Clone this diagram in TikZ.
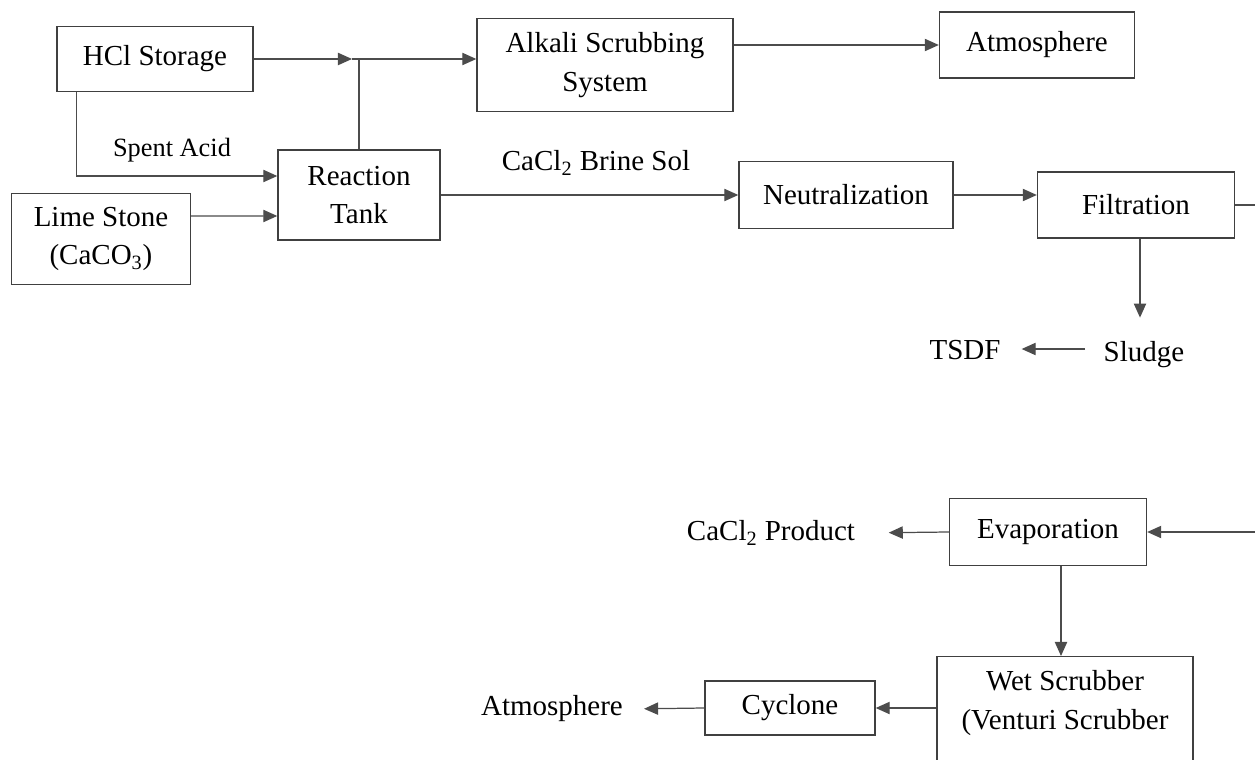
\documentclass[tikz,border=0pt]{standalone}
\usepackage{fontspec}
\setmainfont{Liberation Serif}
\usetikzlibrary{arrows.meta}

\tikzset{
  box/.style={draw=black!75,line width=0.8pt,align=center,font=\fontsize{16.5}{22}\selectfont},
  lbl/.style={font=\fontsize{16.5}{22}\selectfont},
  flow/.style={draw=black!70,line width=0.7pt,-{Triangle[length=8pt,width=7pt]}}
}

\begin{document}
\begin{tikzpicture}[x=0.02cm,y=-0.02cm]
		\useasboundingbox (0,0) rectangle (1255,760);
		
		% TOP: acid side
		\node[box,minimum width=3.92cm,minimum height=1.30cm] (hcl) at (155,59) {HCl Storage};
		\node[box,minimum width=3.24cm,minimum height=1.80cm] (react) at (359,195) {Reaction\\Tank};
		\node[box,minimum width=3.58cm,minimum height=1.82cm] (lime) at (101,239) {Lime Stone\\(CaCO\textsubscript{3})};
		\node[box,minimum width=5.12cm,minimum height=1.86cm] (alkali) at (605,65) {Alkali Scrubbing\\System};
		\node[box,minimum width=3.90cm,minimum height=1.32cm] (atmos) at (1037,45) {Atmosphere};
		\node[box,minimum width=4.28cm,minimum height=1.34cm] (neut) at (846,195) {Neutralization};
		\node[box,minimum width=3.94cm,minimum height=1.32cm] (filt) at (1136,205) {Filtration};
		\node[font=\fontsize{15}{18}\selectfont] (spent) at (172,150) {Spent Acid};
		\node[lbl] (brine) at (596,163) {CaCl\textsubscript{2} Brine Sol};
		\node[lbl] (tsdf) at (965,350) {TSDF};
		\node[lbl] (sludge) at (1144,355) {Sludge};
		\coordinate (midtip) at (352,59);
		\coordinate (filtout) at (1255,205);
		
		\draw[flow] (hcl.east) -- (midtip);
		\draw[flow] (midtip) -- (alkali.west |- hcl.east);
		\draw[draw=black!70,line width=0.7pt] (react.north) -- (react.north |- hcl.east);
		\draw[flow] (alkali.east |- atmos.west) -- (atmos.west);
		\draw[flow] ([xshift=0.4cm]hcl.south west) |- ([yshift=0.38cm]react.west);
		\draw[flow] ([yshift=0.46cm]lime.east) -- ([yshift=-0.42cm]react.west);
		\draw[flow] (react.east) -- (neut.west);
		\draw[flow] (neut.east) -- (filt.west |- neut.east);
		\draw[draw=black!70,line width=0.7pt] (filt.east) -- (filtout);
		\draw[flow] ([xshift=0.08cm]filt.south) -- ([xshift=0.08cm]filt.south |- sludge.north) [shorten >=0.36cm];
		\draw[flow,shorten <=0.25cm,shorten >=0.3cm] ([yshift=0.12cm]sludge.west) -- ([yshift=0.12cm]sludge.west -| tsdf.east);
		
		% BOTTOM: product side
		\node[box,minimum width=3.94cm,minimum height=1.34cm] (evap) at (1048,532) {Evaporation};
		\node[draw=black!75,line width=0.8pt,minimum width=5.12cm,minimum height=2.9cm,anchor=north] (wet) at (1065,656) {};
		\node[box,draw=none] (wettext) at (1065,703) {Wet Scrubber\\(Venturi Scrubber};
		\node[box,minimum width=3.40cm,minimum height=1.08cm] (cyc) at (790,708) {Cyclone};
		\node[lbl] (product) at (771,533) {CaCl\textsubscript{2} Product};
		\node[lbl] (atm2) at (552,709) {Atmosphere};
		\coordinate (evapin) at (1255,532);
		
		\draw[flow] (evapin) -- (evap.east);
		\draw[flow,shorten >=0.55cm] (evap.west) -- (product.east);
		\draw[flow] ([xshift=0.26cm]evap.south) -- ([xshift=0.26cm]evap.south |- wet.north);
		\draw[flow] (cyc.east -| wet.west) -- (cyc.east);
		\draw[flow,shorten >=0.3cm] (cyc.west) -- (atm2.east);
	\end{tikzpicture}
\end{document}
